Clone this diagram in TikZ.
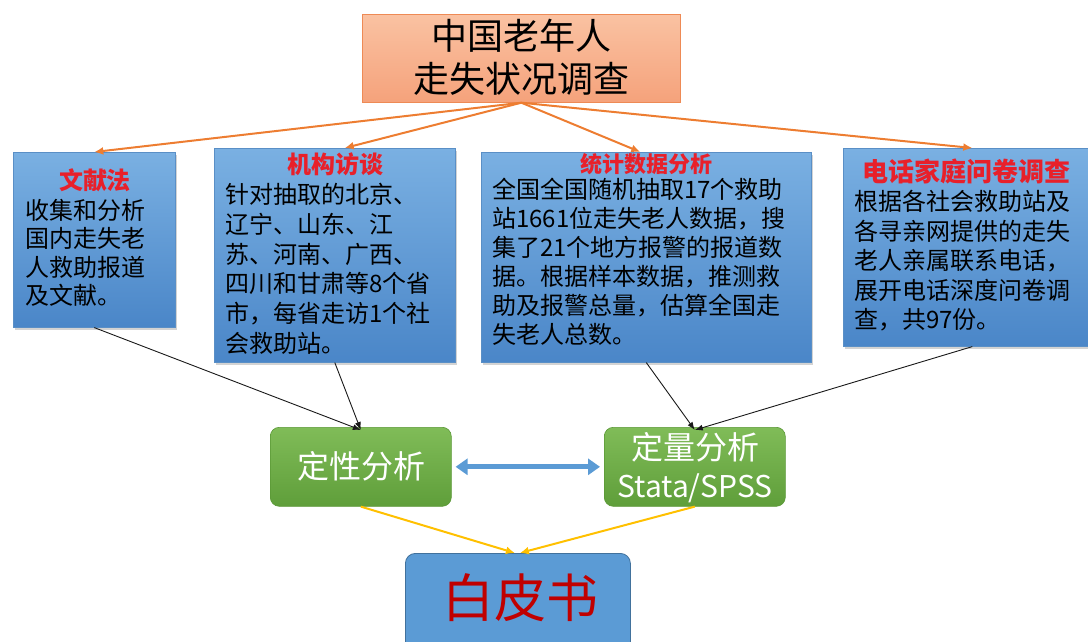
\documentclass[tikz,border=0pt]{standalone}
\usepackage{fontspec}
\setmainfont{Noto Sans CJK SC}
\usetikzlibrary{shadows,arrows.meta}
\definecolor{bluetop}{HTML}{7AB0E2}
\definecolor{bluebot}{HTML}{4A86C8}
\definecolor{blueedge}{HTML}{5A8FC6}
\definecolor{saltop}{HTML}{FAC2A2}
\definecolor{salbot}{HTML}{F5A27B}
\definecolor{saledge}{HTML}{EE8A55}
\definecolor{orarrow}{HTML}{ED7D31}
\definecolor{greentop}{HTML}{80BC58}
\definecolor{greenbot}{HTML}{5F9E3A}
\definecolor{greenedge}{HTML}{5A9836}
\definecolor{dblue}{HTML}{5B9BD5}
\definecolor{dblueedge}{HTML}{41719C}
\definecolor{yel}{HTML}{FFC000}
\definecolor{titlered}{HTML}{E8202A}
\definecolor{bookred}{HTML}{C00000}
\begin{document}
\begin{tikzpicture}[x=1pt,y=-1pt,
  bluebox/.style={draw=blueedge, line width=0.6pt, top color=bluetop, bottom color=bluebot,
    anchor=north west, inner sep=0pt,
    drop shadow={shadow xshift=2pt, shadow yshift=-3pt, opacity=0.35}},
  boxtitle/.style={text=titlered, font=\fontsize{24}{28}\selectfont\bfseries, inner sep=0pt},
  body/.style={text=black, align=left, anchor=north west, inner sep=0pt},
  greenbox/.style={draw=greenedge, line width=0.6pt, top color=greentop, bottom color=greenbot,
    rounded corners=9pt, anchor=north west, inner sep=0pt, minimum width=181pt, minimum height=79pt},
  orarr/.style={draw=orarrow, line width=2pt, -{Latex[length=9pt,width=8pt]}},
  blkarr/.style={draw=black!90, line width=0.9pt, -{Latex[length=8pt,width=6pt]}},
  yelarr/.style={draw=yel, line width=2pt, -{Latex[length=9pt,width=8pt]}}
]
\useasboundingbox (0,0) rectangle (1088,641);

% top box
\node[draw=saledge, line width=0.7pt, top color=saltop, bottom color=salbot, anchor=north west,
  inner sep=0pt, minimum width=318pt, minimum height=88pt] (top) at (362,14) {};
\node[align=center, font=\fontsize{36}{43}\selectfont, inner sep=0pt] (toptext) at (521,57)
  {中国老年人\\走失状况调查};

% four method boxes
\node[bluebox, minimum width=162pt, minimum height=175pt] (b1) at (13,152) {};
\node[bluebox, minimum width=241pt, minimum height=214pt] (b2) at (214,148) {};
\node[bluebox, minimum width=330pt, minimum height=210pt] (b3) at (481,152) {};
\node[bluebox, minimum width=250pt, minimum height=198pt] (b4) at (843,148) {};

\node[boxtitle] (t1) at (95,180) {文献法};
\node[boxtitle] (t2) at (335,164) {机构访谈};
\node[boxtitle, font=\fontsize{22}{26}\selectfont\bfseries] (t3) at (646,164) {统计数据分析};
\node[boxtitle, font=\fontsize{26}{30}\selectfont\bfseries] (t4) at (966,171) {电话家庭问卷调查};

\node[body, font=\fontsize{24}{28.5}\selectfont] (d1) at (25,199)
  {收集和分析\\国内走失老\\人救助报道\\及文献。};
\node[body, font=\fontsize{24}{29.8}\selectfont] (d2) at (225,183)
  {针对抽取的北京、\\辽宁、山东、江\\苏、河南、广西、\\四川和甘肃等8个省\\市，每省走访1个社\\会救助站。};
\node[body, font=\fontsize{24}{29}\selectfont] (d3) at (492,178)
  {全国全国随机抽取17个救助\\站1661位走失老人数据，搜\\集了21个地方报警的报道数\\据。根据样本数据，推测救\\助及报警总量，估算全国走\\失老人总数。};
\node[body, font=\fontsize{24}{29.5}\selectfont] (d4) at (854,190)
  {根据各社会救助站及\\各寻亲网提供的走失\\老人亲属联系电话，\\展开电话深度问卷调\\查，共97份。};

% analysis boxes
\node[greenbox] (g1) at (270,427) {};
\node[greenbox] (g2) at (604,427) {};
\node[text=white, font=\fontsize{32}{38}\selectfont, inner sep=0pt] (g1t) at (361,466) {定性分析};
\node[text=white, font=\fontsize{32}{38}\selectfont, inner sep=0pt] (g2t) at (695,447) {定量分析};
\node[text=white, font=\fontsize{30}{34}\selectfont, inner sep=0pt] (g2s) at (695,488) {Stata/SPSS};

% white paper box
\node[draw=dblueedge, line width=0.8pt, fill=dblue, rounded corners=10pt, anchor=north west,
  inner sep=0pt, minimum width=225pt, minimum height=100pt] (w) at (405,553) {};
\node[text=bookred, font=\fontsize{52}{60}\selectfont, inner sep=0pt] (wt) at (520,598) {白皮书};

% orange arrows
\draw[orarr] (top.south) -- (b1.north);
\draw[orarr] (top.south) -- ([xshift=10pt]b2.north);
\draw[orarr] (top.south) -- ([xshift=-6pt]b3.north);
\draw[orarr] (top.south) -- ([xshift=4pt]b4.north);

% black arrows
\draw[blkarr] (b1.south) -- ([yshift=-3pt]g1.north);
\draw[blkarr] (b2.south) -- ([yshift=-3pt]g1.north);
\draw[blkarr] (b3.south) -- ([yshift=-3pt]g2.north);
\draw[blkarr] ([xshift=4pt]b4.south) -- ([yshift=-3pt]g2.north);

% double arrow
\draw[draw=dblue, line width=5pt, {Triangle[length=12pt,width=16pt]}-{Triangle[length=12pt,width=16pt]},
  shorten <=4pt, shorten >=4pt] (g1.east) -- (g2.west);

% yellow arrows
\draw[yelarr] (g1.south) -- ([xshift=-3pt]w.north);
\draw[yelarr] (g2.south) -- ([xshift=2pt]w.north);
\end{tikzpicture}
\end{document}
